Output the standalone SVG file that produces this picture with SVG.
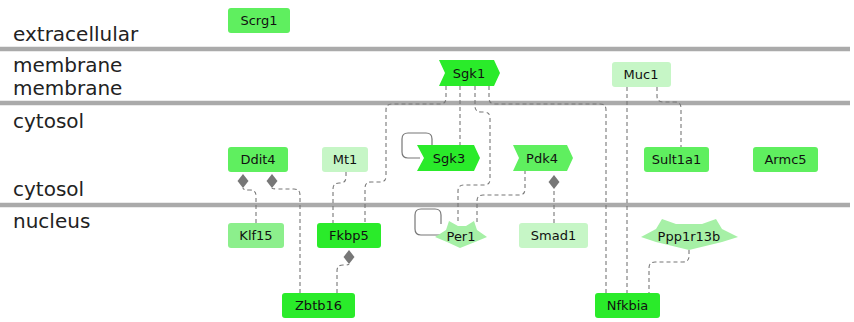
<svg xmlns="http://www.w3.org/2000/svg" width="854" height="322" viewBox="0 0 854 322">
<defs>
<style>
.sep{stroke:#aaaaaa;stroke-width:4.5;fill:none}
.lbl{font-family:"DejaVu Sans",sans-serif;font-size:20px;fill:#222}
.nt{font-family:"DejaVu Sans",sans-serif;font-size:13px;fill:#111;text-anchor:middle}
.c1{fill:#2aeb2a}
.c2{fill:#5fef5f}
.c3{fill:#8cef8c}
.c4{fill:#a6f0a6}
.c5{fill:#c6f6c6}
.e{fill:none;stroke:#777;stroke-width:1.1;stroke-dasharray:4,3}
.loop{fill:none;stroke:#777;stroke-width:1.2}
</style>
<marker id="dia" viewBox="0 0 16 12" refX="1" refY="6" markerWidth="16" markerHeight="12" markerUnits="userSpaceOnUse" orient="auto">
<path d="M1,6 L8,0.5 L15,6 L8,11.5 Z" fill="#777"/>
</marker>
</defs>
<rect width="854" height="322" fill="#fff"/>
<g id="compartments">
<line class="sep" x1="0" y1="49" x2="850" y2="49"/>
<line class="sep" x1="0" y1="103" x2="850" y2="103"/>
<line class="sep" x1="0" y1="205" x2="850" y2="205"/>
<text class="lbl" x="13" y="41">extracellular</text>
<text class="lbl" x="13" y="72">membrane</text>
<text class="lbl" x="13" y="95">membrane</text>
<text class="lbl" x="13" y="128">cytosol</text>
<text class="lbl" x="13" y="196">cytosol</text>
<text class="lbl" x="13" y="228">nucleus</text>
</g>
<g id="connectors">
<path class="e" d="M446,86 V98 Q446,104 440,104 H392 Q386,104 386,110 V176 Q386,182 380,182 H371 Q365,182 365,188 V223"/>
<path class="e" d="M460,86 V145"/>
<path class="e" d="M475,86 V106 Q475,112 481,112 H484 Q490,112 490,118 V179 Q490,185 484,185 H464 Q458,185 458,191 V222"/>
<path class="e" d="M489,86 V98 Q489,104 495,104 H600 Q606,104 606,110 V293"/>
<path class="e" d="M627,87 V293"/>
<path class="e" d="M657,87 V96 Q657,102 663,102 H675 Q681,102 681,108 V147"/>
<path class="e" d="M525,170 V189 Q525,195 519,195 H483 Q477,195 477,201 V224"/>
<path class="e" d="M689,250 V256 Q689,262 683,262 H655 Q649,262 649,268 V293"/>
<path class="e" d="M346,172 V177 Q346,183 340,183 H339 Q333,183 333,189 V223"/>
<path class="e" d="M256,223 V196 Q256,190 250,190 H249 Q243,190 243,188" marker-end="url(#dia)"/>
<path class="e" d="M300,293 V195 Q300,189 294,189 H278 Q272,189 272,188" marker-end="url(#dia)"/>
<path class="e" d="M554,223 V189" marker-end="url(#dia)"/>
<path class="e" d="M337,293 V271 Q337,265 343,265 H343 Q349,265 349,264" marker-end="url(#dia)"/>
<path class="loop" d="M420,158 H408 Q402,158 402,152 V139 Q402,133 408,133 H426 Q432,133 432,139 V145"/>
<path class="loop" d="M442,235 H421 Q415,235 415,229 V215 Q415,209 421,209 H435 Q441,209 441,215 V224"/>
</g>
<g id="Scrg1"><rect class="c2" x="228" y="8" width="62" height="25" rx="3"/><text class="nt" x="259" y="25">Scrg1</text></g>
<g id="Sgk1"><path class="c1" d="M439,60 H494 L500,73 L494,86 H439 L445,73 Z"/><text class="nt" x="469" y="78">Sgk1</text></g>
<g id="Muc1"><rect class="c5" x="612" y="62" width="59" height="25" rx="3"/><text class="nt" x="641" y="79">Muc1</text></g>
<g id="Ddit4"><rect class="c2" x="228" y="147" width="60" height="25" rx="3"/><text class="nt" x="258" y="164">Ddit4</text></g>
<g id="Mt1"><rect class="c5" x="322" y="147" width="46" height="25" rx="3"/><text class="nt" x="345" y="164">Mt1</text></g>
<g id="Sgk3"><path class="c1" d="M417,145 H474 L480,158 L474,171 H417 L424,158 Z"/><text class="nt" x="449" y="163">Sgk3</text></g>
<g id="Pdk4"><path class="c2" d="M513,145 H567 L573,158 L567,171 H513 L519,158 Z"/><text class="nt" x="542" y="163">Pdk4</text></g>
<g id="Sult1a1"><rect class="c2" x="644" y="147" width="65" height="25" rx="3"/><text class="nt" x="676.5" y="164">Sult1a1</text></g>
<g id="Armc5"><rect class="c2" x="753" y="147" width="65" height="25" rx="3"/><text class="nt" x="785.5" y="164">Armc5</text></g>
<g id="Klf15"><rect class="c3" x="228" y="223" width="56" height="25" rx="3"/><text class="nt" x="256" y="240">Klf15</text></g>
<g id="Fkbp5"><rect class="c1" x="317" y="223" width="64" height="25" rx="3"/><text class="nt" x="349" y="240">Fkbp5</text></g>
<g id="Per1"><path class="c4" d="M435,237 L446,230 L449,221 L458,226 L466,226 L474,221 L477,230 L487,237 L475,242 L460,248 L447,242 Z"/><text class="nt" x="461" y="241">Per1</text></g>
<g id="Smad1"><rect class="c5" x="519" y="223" width="69" height="25" rx="3"/><text class="nt" x="553.5" y="240">Smad1</text></g>
<g id="Ppp1r13b"><path class="c4" d="M641,237 L656,229 L662,219 L676,224 L702,224 L716,219 L722,229 L738,237 L722,242 L689,250 L656,242 Z"/><text class="nt" x="689" y="241">Ppp1r13b</text></g>
<g id="Zbtb16"><rect class="c1" x="282" y="293" width="73" height="25" rx="3"/><text class="nt" x="318.5" y="310">Zbtb16</text></g>
<g id="Nfkbia"><rect class="c1" x="595" y="293" width="65" height="25" rx="3"/><text class="nt" x="627.5" y="310">Nfkbia</text></g>
</svg>
